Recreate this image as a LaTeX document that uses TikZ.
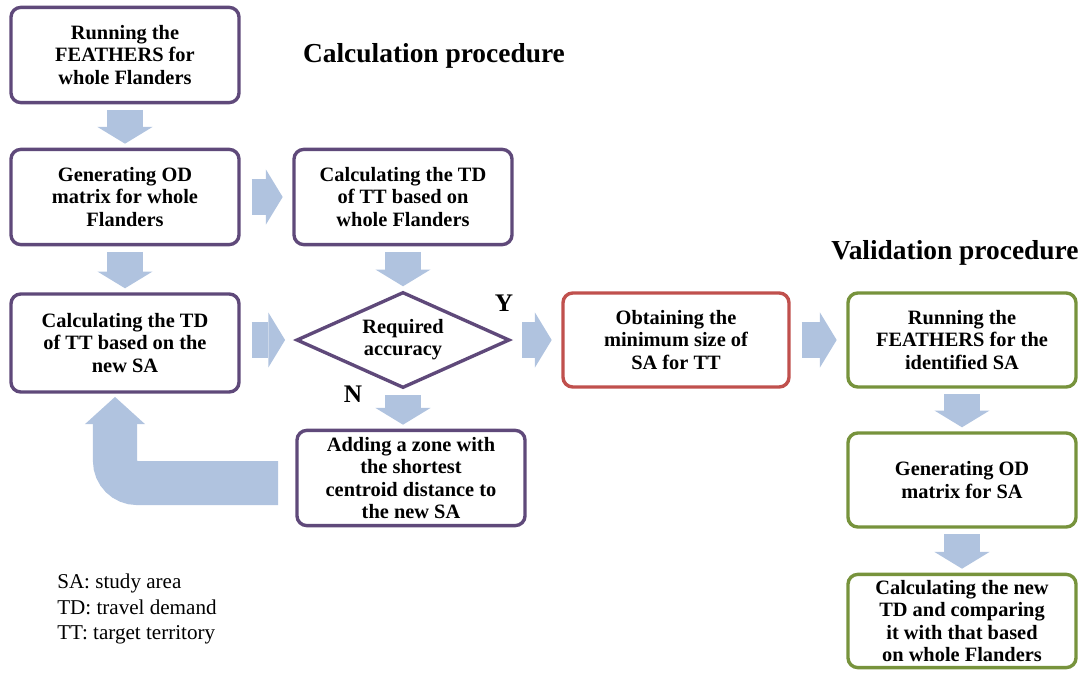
\documentclass[tikz,border=0pt]{standalone}
\usepackage{fontspec}
\setmainfont{Liberation Serif}
\usetikzlibrary{arrows.meta, shapes.geometric, positioning}
\definecolor{boxpurple}{RGB}{95, 73, 122}
\definecolor{boxred}{RGB}{192, 80, 77}
\definecolor{boxgreen}{RGB}{119, 147, 60}
\definecolor{arrowblue}{RGB}{176, 195, 223}
\tikzset{
  procbox/.style={draw=boxpurple, line width=2.4pt, rounded corners=7pt, fill=white,
    align=center, inner sep=2pt, minimum width=5.7cm, minimum height=2.38cm,
    font=\fontsize{14.5}{15.8}\selectfont\bfseries},
  bigarrow/.style={arrowblue, line width=0.9cm, shorten <=0.14cm, shorten >=0.1cm,
    -{Triangle[length=0.42cm, width=1.38cm, line width=0pt]}},
  sidearrow/.style={bigarrow, shorten <=0.27cm, shorten >=0.24cm},
  heading/.style={font=\fontsize{19.5}{22}\selectfont\bfseries},
  answer/.style={font=\fontsize{18}{20}\selectfont\bfseries}
}

\begin{document}
\begin{tikzpicture}[x=0.025cm, y=-0.025cm]
    \useasboundingbox (0,0) rectangle (1086,672);

    % Calculation procedure
    \node[heading] (calc) at (434,56) {Calculation procedure};
    \node[procbox] (b1) at (125,55) {Running the\\FEATHERS for\\whole Flanders};
    \node[procbox] (b2) at (125,197) {Generating OD\\matrix for whole\\Flanders};
    \node[procbox, minimum width=5.45cm] (b3) at (403,197) {Calculating the TD\\of TT based on\\whole Flanders};
    \node[procbox, minimum height=2.45cm] (b4) at (125,343) {Calculating the TD\\of TT based on the\\new SA};
    \node[diamond, draw=boxpurple, line width=2.4pt, fill=white, aspect=2.2, inner sep=0pt,
          minimum width=5.33cm, minimum height=2.4cm, align=center,
          font=\fontsize{14.5}{15.8}\selectfont\bfseries] (acc) at (403,340) {Required\\accuracy};
    \node[procbox] (b5) at (411,478) {Adding a zone with\\the shortest\\centroid distance to\\the new SA};
    \node[procbox, draw=boxred, minimum width=5.65cm, minimum height=2.35cm] (b6) at (676,340) {Obtaining the\\minimum size of\\SA for TT};
    \node[answer] (yes) at (504,303) {Y};
    \node[answer] (no) at (353,394) {N};

    % Validation procedure
    \node[heading] (valid) at (955,253) {Validation procedure};
    \node[procbox, draw=boxgreen, minimum height=2.35cm] (g1) at (962,340) {Running the\\FEATHERS for the\\identified SA};
    \node[procbox, draw=boxgreen, minimum height=2.35cm] (g2) at (962,480) {Generating OD\\matrix for SA};
    \node[procbox, draw=boxgreen, minimum height=2.33cm] (g3) at (962,621) {Calculating the new\\TD and comparing\\it with that based\\on whole Flanders};

    % block arrows
    \draw[bigarrow] (b1) -- (b2);
    \draw[sidearrow] (b2) -- (b3);
    \draw[bigarrow] (b2) -- (b4);
    \draw[bigarrow] (b3) -- (acc);
    \draw[sidearrow] (b4.east |- acc) -- (acc);
    \draw[sidearrow] (acc) -- (b6);
    \draw[bigarrow] (acc.south) -- (acc.south |- b5.north);
    \draw[sidearrow] (b6) -- (g1);
    \draw[bigarrow] (g1) -- (g2);
    \draw[bigarrow] (g2) -- (g3);
    % back to the new SA
    \coordinate (back) at (278,483);
    \draw[bigarrow, line width=1.1cm, shorten <=0cm, shorten >=0.08cm, rounded corners=0.55cm,
          -{Triangle[length=0.68cm, width=1.5cm, line width=0pt]}] (back) -| ([xshift=-0.25cm]b4.south);

    % abbreviations
    \node[anchor=north west, align=left, inner sep=0pt, font=\fontsize{15}{18}\selectfont] (legend) at (57,574)
        {SA: study area\\TD: travel demand\\TT: target territory};
\end{tikzpicture}
\end{document}
